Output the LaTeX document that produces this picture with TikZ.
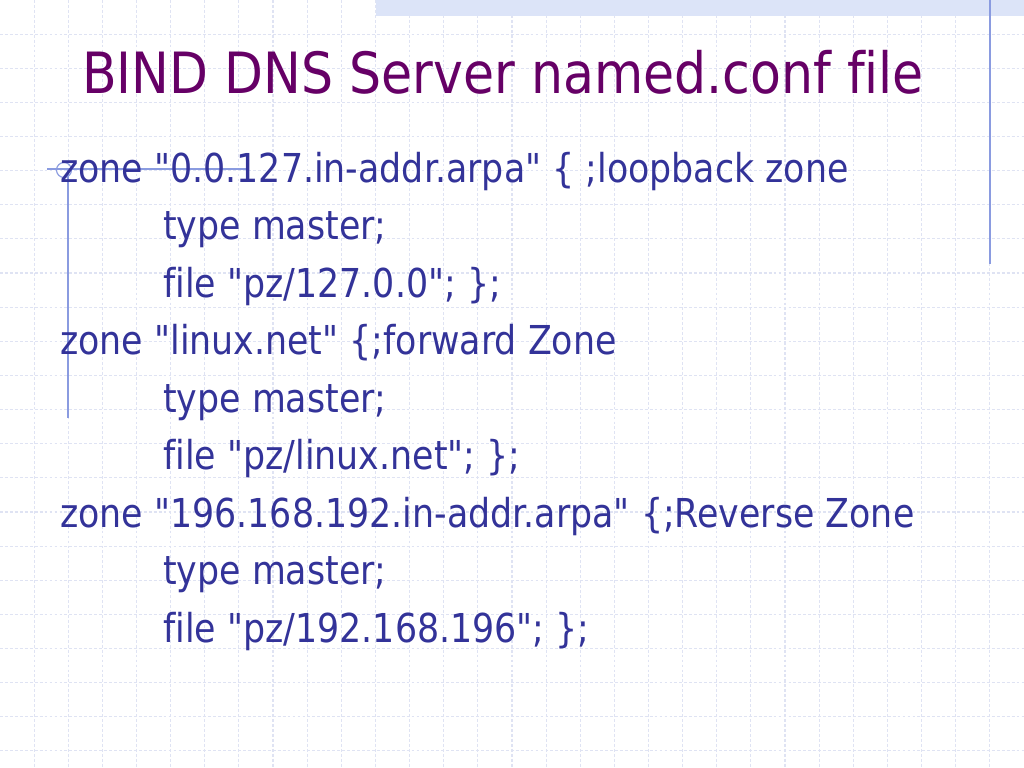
\documentclass[tikz,border=0pt]{standalone}
\usepackage{fontspec}
\setmainfont{DejaVu Sans}[FakeStretch=0.874, Ligatures={TeXOff,CommonOff}]
\newfontfamily\titlefont{DejaVu Sans}[FakeStretch=0.888, Ligatures={TeXOff,CommonOff}]
\usepackage{xcolor}
\usetikzlibrary{positioning}

\definecolor{titlepurple}{HTML}{660066}
\definecolor{codeblue}{HTML}{333399}
\definecolor{gridcol}{HTML}{DFE3F3}
\definecolor{rulecol}{HTML}{8A9BE0}
\definecolor{barcol}{HTML}{DCE4F8}

\tikzset{
  gridline/.style={draw=gridcol, line width=0.8pt, dash pattern=on 2pt off 1.5pt},
  ruleline/.style={draw=rulecol, line width=1pt},
  codeline/.style={anchor=base west, inner sep=0pt, text=codeblue, font=\fontsize{28bp}{34bp}\selectfont}
}

\begin{document}
\begin{tikzpicture}[x=0.703125bp, y=-0.703125bp]
            \useasboundingbox[fill=white] (0,0) rectangle (1024,768);

            % background grid
            \foreach \k in {1,...,29} {
              \draw[gridline] (\k*34.133,0) -- (\k*34.133,768);
            }
            \foreach \k in {1,...,22} {
              \draw[gridline] (0,\k*34.133) -- (1024,\k*34.133);
            }

            % slide decorations
            \fill[barcol] (376,0) rectangle (1024,16);
            \draw[ruleline] (990,0) -- (990,264);
            \draw[ruleline] (47,169) -- (247,169);
            \draw[ruleline] (68,169) -- (68,418);
            \draw[ruleline, line width=0.8pt] (64,170) circle (7.5);

            \node[anchor=base west, inner sep=0pt, text=titlepurple, font=\titlefont\fontsize{40bp}{48bp}\selectfont] (title) at (82,94) {BIND DNS Server named.conf file};

            \node[codeline] (zoneloop) at (60,182) {zone "0.0.127.in-addr.arpa" \{ ;loopback zone};
            \node[codeline] (typeloop) at (163,239.5) {type master;};
            \node[codeline] (fileloop) at (163,297) {file "pz/127.0.0"; \};};
            \node[codeline] (zonefwd) at (60,354.5) {zone "linux.net" \{;forward Zone};
            \node[codeline] (typefwd) at (163,412) {type master;};
            \node[codeline] (filefwd) at (163,469.5) {file "pz/linux.net"; \};};
            \node[codeline] (zonerev) at (60,527) {zone "196.168.192.in-addr.arpa" \{;Reverse Zone};
            \node[codeline] (typerev) at (163,584.5) {type master;};
            \node[codeline] (filerev) at (163,642) {file "pz/192.168.196"; \};};
        \end{tikzpicture}
\end{document}
